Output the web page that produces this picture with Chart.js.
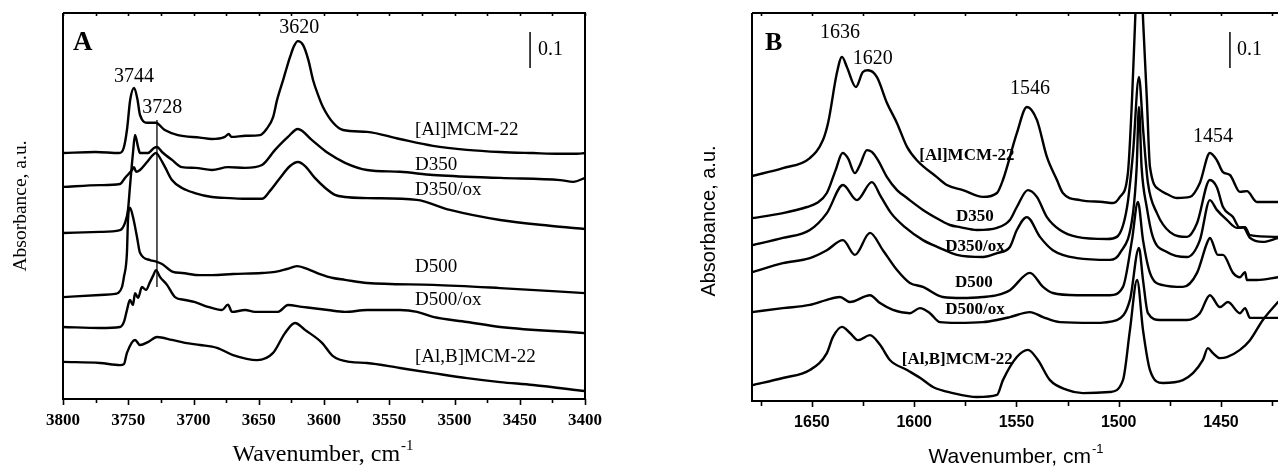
<!DOCTYPE html>
<html>
<head>
<meta charset="utf-8">
<script src="https://cdn.jsdelivr.net/npm/chart.js@4.4.1/dist/chart.umd.min.js"></script>
<style>
  html, body { margin: 0; padding: 0; background: #fff; width: 1278px; height: 466px; overflow: hidden; }
  canvas { position: absolute; top: 0; }
  #panelA { left: 0; }
  #panelB { left: 630px; }
</style>
</head>
<body>
<canvas id="panelA" width="630" height="466" style="width:630px;height:466px"></canvas>
<canvas id="panelB" width="648" height="466" style="width:648px;height:466px"></canvas>
<script>
// ---------- values ----------
const sampleNames = ['[Al]MCM-22', 'D350', 'D350/ox', 'D500', 'D500/ox', '[Al,B]MCM-22'];

const wavenumberTicksA = [3800, 3750, 3700, 3650, 3600, 3550, 3500, 3450, 3400];
const wavenumberTicksB = [1650, 1600, 1550, 1500, 1450];
const rangeA = [3400, 3800];
const rangeB = [1422.1, 1679.3];

const peaksA = [3744, 3728, 3620];
const peaksB = [1636, 1620, 1546, 1454];
const scaleBarSize = 0.1;
const markerSpanA = [0.311, 0.775];   // absorbance range of the 3728 cm-1 marker line

// OH stretching region, [wavenumber, absorbance (stacked)]
const ohAl = [[3800,0.683],[3775,0.686],[3757,0.683],[3753.5,0.697],[3751,0.747],[3748.5,0.831],[3745.5,0.864],[3743,0.833],[3741,0.789],[3735,0.767],[3729,0.767],[3722,0.747],[3712,0.733],[3695,0.726],[3686,0.722],[3676,0.728],[3673,0.736],[3671,0.728],[3660,0.731],[3649,0.733],[3644,0.750],[3639,0.783],[3636,0.830],[3631,0.890],[3628.4,0.922],[3626,0.950],[3623,0.980],[3620,0.994],[3616,0.983],[3612,0.942],[3608.4,0.886],[3604.5,0.844],[3600.8,0.811],[3593,0.767],[3585.4,0.747],[3567,0.742],[3542,0.722],[3516.5,0.703],[3490.5,0.692],[3465,0.686],[3440,0.683],[3419,0.681],[3406,0.681],[3400,0.683]];
const ohD350 = [[3800,0.461],[3771.6,0.464],[3756.3,0.469],[3752.5,0.489],[3750.2,0.525],[3748.7,0.589],[3746.4,0.683],[3744.8,0.733],[3742.5,0.700],[3741,0.683],[3735,0.683],[3730.3,0.697],[3728,0.700],[3724.1,0.686],[3716.5,0.664],[3708.8,0.644],[3698.8,0.642],[3685.8,0.636],[3673.6,0.644],[3660.5,0.642],[3647.5,0.650],[3637.5,0.692],[3627.6,0.728],[3620,0.750],[3609.2,0.719],[3596.9,0.683],[3583.9,0.656],[3567,0.636],[3541.8,0.631],[3516.5,0.622],[3465,0.614],[3419,0.608],[3409,0.603],[3400,0.614]];
const ohD350ox = [[3800,0.589],[3771.6,0.594],[3756.3,0.597],[3752.5,0.614],[3747.1,0.636],[3745.6,0.644],[3744,0.631],[3741,0.636],[3735.6,0.658],[3731,0.678],[3728.7,0.683],[3727.2,0.678],[3721.8,0.644],[3716.5,0.608],[3708.8,0.586],[3699,0.572],[3685.8,0.561],[3672,0.558],[3660.5,0.556],[3647.5,0.556],[3641.4,0.578],[3633.7,0.614],[3626,0.647],[3620,0.658],[3614.5,0.647],[3607,0.614],[3599,0.586],[3591.6,0.567],[3584,0.561],[3567,0.558],[3529,0.553],[3503.5,0.525],[3465,0.497],[3427,0.481],[3400,0.472]];
const ohD500 = [[3800,0.283],[3771.6,0.289],[3760,0.292],[3758,0.294],[3754.8,0.311],[3753.3,0.339],[3751,0.406],[3750.2,0.497],[3748.7,0.531],[3746.4,0.506],[3743.3,0.450],[3741,0.406],[3733.3,0.386],[3728,0.381],[3724.1,0.375],[3715.7,0.353],[3708.8,0.350],[3695,0.344],[3685.8,0.344],[3669.7,0.347],[3647.5,0.350],[3637.5,0.353],[3628.4,0.361],[3620.7,0.369],[3610.7,0.358],[3603.1,0.347],[3593.1,0.336],[3583.9,0.331],[3567,0.322],[3516.5,0.317],[3465,0.308],[3400,0.294]];
const ohD500ox = [[3800,0.200],[3771.6,0.197],[3756.3,0.200],[3753.3,0.214],[3751,0.247],[3748.7,0.275],[3746.4,0.261],[3744.8,0.294],[3742.5,0.281],[3739.5,0.311],[3736.4,0.303],[3733.3,0.325],[3731,0.342],[3728.7,0.358],[3725.7,0.339],[3720.3,0.317],[3714.2,0.283],[3706.5,0.275],[3698.8,0.269],[3688.9,0.256],[3678.2,0.247],[3673.6,0.262],[3670.5,0.242],[3660.5,0.247],[3652.9,0.242],[3635.2,0.242],[3627.6,0.261],[3616.9,0.256],[3596.9,0.247],[3583.9,0.242],[3567,0.247],[3541.8,0.247],[3528.7,0.242],[3516.5,0.228],[3490.4,0.214],[3465,0.200],[3400,0.183]];
const ohAlB = [[3800,0.103],[3771.6,0.100],[3756.3,0.094],[3753.3,0.097],[3751,0.128],[3744.8,0.164],[3741,0.150],[3734.9,0.158],[3728,0.172],[3716.5,0.164],[3706.5,0.156],[3695,0.150],[3682,0.142],[3669.7,0.122],[3651.3,0.108],[3639,0.128],[3629.9,0.183],[3622.2,0.211],[3614.6,0.192],[3601.5,0.156],[3593.1,0.119],[3580.1,0.103],[3567,0.100],[3541.8,0.086],[3516.5,0.072],[3490.4,0.058],[3465,0.047],[3439.8,0.039],[3400,0.022]];

// Pyridine ring vibration region, [wavenumber, absorbance (stacked)]
const pyAl = [[1679.3,0.625],[1664.2,0.647],[1651,0.675],[1644.6,0.725],[1642,0.775],[1637.8,0.911],[1635.3,0.956],[1632.9,0.928],[1628.5,0.872],[1625.1,0.914],[1622.6,0.919],[1618.2,0.900],[1613.3,0.828],[1608.4,0.772],[1603.5,0.706],[1598.7,0.669],[1588.9,0.622],[1584,0.600],[1576.2,0.586],[1566.4,0.567],[1559.5,0.578],[1556.6,0.614],[1549.8,0.744],[1544.9,0.817],[1540,0.781],[1535.1,0.678],[1530.2,0.614],[1527.3,0.578],[1518.9,0.558],[1507.7,0.553],[1502.7,0.550],[1499.4,0.567],[1495.5,0.633],[1493.5,0.836],[1492,1.050],[1490,1.320],[1488,1.050],[1486.2,0.836],[1484.7,0.650],[1479.8,0.586],[1476.4,0.575],[1471.5,0.564],[1465.2,0.567],[1460.3,0.606],[1455.4,0.689],[1452,0.669],[1449,0.636],[1445.6,0.628],[1440.7,0.581],[1437.3,0.583],[1432.4,0.553],[1422.1,0.553]];
const pyD350 = [[1679.3,0.508],[1664.2,0.522],[1652.4,0.539],[1647.6,0.550],[1642.7,0.578],[1638.5,0.640],[1635,0.689],[1632.4,0.675],[1629,0.633],[1626.5,0.656],[1623.1,0.697],[1620.7,0.692],[1617.7,0.669],[1613.3,0.622],[1608.4,0.586],[1603.5,0.564],[1595.7,0.531],[1587.4,0.503],[1582.5,0.489],[1577.6,0.483],[1569.3,0.475],[1559.5,0.481],[1553.2,0.503],[1549.8,0.539],[1544.4,0.586],[1540,0.567],[1535.1,0.511],[1528.7,0.475],[1520.4,0.456],[1505.7,0.450],[1500.9,0.456],[1495.9,0.539],[1493,0.689],[1490.1,0.900],[1488,0.750],[1485.7,0.606],[1481.3,0.522],[1474.9,0.469],[1466.6,0.456],[1461.7,0.494],[1455.4,0.614],[1452,0.594],[1449,0.539],[1444.1,0.511],[1440.7,0.481],[1438.2,0.483],[1435.8,0.461],[1422.1,0.456]];
const pyD350ox = [[1679.3,0.433],[1664.2,0.453],[1651,0.475],[1642.7,0.522],[1634.8,0.600],[1628,0.558],[1620.7,0.608],[1616.2,0.567],[1611.3,0.522],[1604.5,0.483],[1595.7,0.447],[1587.4,0.425],[1579.1,0.406],[1566.4,0.400],[1559.5,0.411],[1553.2,0.428],[1549.8,0.475],[1544.9,0.511],[1538.5,0.456],[1532.2,0.419],[1520.4,0.397],[1504.3,0.392],[1499.4,0.411],[1493,0.522],[1491.2,0.650],[1490.1,0.817],[1488.8,0.650],[1486.2,0.536],[1483.3,0.456],[1476.4,0.414],[1466.6,0.400],[1460.3,0.447],[1455.4,0.558],[1452,0.531],[1447.1,0.503],[1442.2,0.481],[1439.2,0.483],[1435.8,0.453],[1429.5,0.442],[1422.1,0.453]];
const pyD500 = [[1679.3,0.358],[1664.2,0.383],[1651,0.397],[1642.7,0.419],[1634.8,0.447],[1629,0.406],[1621.6,0.467],[1615.3,0.419],[1608.4,0.364],[1602.1,0.328],[1595.7,0.317],[1586,0.289],[1576.2,0.286],[1566.4,0.289],[1559.5,0.294],[1553.2,0.308],[1543.4,0.356],[1537,0.317],[1532.2,0.300],[1520.4,0.294],[1504.3,0.294],[1497.9,0.317],[1493.5,0.447],[1490.6,0.553],[1488.1,0.447],[1484.7,0.356],[1478.4,0.322],[1468.6,0.317],[1461.7,0.356],[1456.8,0.439],[1455.4,0.453],[1451.5,0.406],[1449,0.406],[1444.1,0.356],[1440.7,0.344],[1438.2,0.358],[1437.3,0.336],[1432.4,0.336],[1422.1,0.344]];
const pyD500ox = [[1679.3,0.247],[1664.2,0.258],[1651,0.267],[1642.7,0.281],[1636.3,0.289],[1631.4,0.275],[1621.6,0.294],[1616.7,0.272],[1610.4,0.253],[1602.1,0.244],[1597.2,0.258],[1592.3,0.244],[1587.4,0.219],[1579.1,0.217],[1566.4,0.219],[1559.5,0.225],[1553.2,0.233],[1543.4,0.247],[1537,0.233],[1528.7,0.219],[1512.6,0.217],[1500.9,0.225],[1494.5,0.281],[1490.1,0.425],[1488.1,0.336],[1485.7,0.244],[1479.8,0.225],[1466.6,0.225],[1460.3,0.244],[1455.4,0.294],[1450.5,0.261],[1446.6,0.275],[1440.7,0.244],[1438.2,0.258],[1435.8,0.231],[1422.1,0.231]];
const pyAlB = [[1679.3,0.044],[1664.2,0.064],[1651,0.086],[1642.7,0.133],[1639.7,0.178],[1635.3,0.206],[1631.4,0.189],[1627.5,0.169],[1621.6,0.183],[1616.7,0.156],[1611.9,0.114],[1603.5,0.086],[1597,0.064],[1590.8,0.039],[1581,0.022],[1569.3,0.011],[1559.5,0.017],[1556.6,0.058],[1549.8,0.122],[1544.4,0.142],[1539.5,0.114],[1533.6,0.058],[1525.3,0.031],[1517.5,0.022],[1504.3,0.025],[1497.9,0.058],[1494.5,0.197],[1491,0.336],[1488.1,0.197],[1484.7,0.086],[1478.4,0.050],[1468.6,0.058],[1458.8,0.114],[1456.4,0.147],[1453.9,0.133],[1450.5,0.119],[1447.1,0.122],[1440.7,0.142],[1435.8,0.169],[1429.5,0.225],[1422.1,0.275]];

// ---------- styling ----------
const SERIF = "'Liberation Serif', 'Times New Roman', serif";
const SANS = "'Liberation Sans', Arial, sans-serif";

const toPoints = arr => arr.map(([x, y]) => ({ x, y }));

function spectrum(arr) {
  return {
    data: toPoints(arr),
    borderColor: '#000',
    borderWidth: 2.4,
    pointRadius: 0,
    showLine: true,
    fill: false,
    cubicInterpolationMode: 'monotone',
    borderJoinStyle: 'round',
    borderCapStyle: 'round'
  };
}

function drawText(ctx, t) {
  ctx.save();
  ctx.fillStyle = '#000';
  ctx.font = t.font;
  ctx.textAlign = t.align || 'center';
  ctx.textBaseline = 'middle';
  ctx.fillText(t.text, t.px, t.py);
  ctx.restore();
}

function drawAxisTitle(ctx, t) {
  ctx.save();
  ctx.translate(t.cx, t.cy);
  if (t.rotate) ctx.rotate(-Math.PI / 2);
  ctx.fillStyle = '#000';
  ctx.textBaseline = 'middle';
  ctx.textAlign = 'left';
  ctx.font = t.font;
  const w1 = ctx.measureText(t.text).width;
  let w2 = 0;
  if (t.sup) { ctx.font = t.supFont; w2 = ctx.measureText(t.sup).width + 1; }
  const x0 = -(w1 + w2) / 2;
  ctx.font = t.font;
  ctx.fillText(t.text, x0, 0);
  if (t.sup) { ctx.font = t.supFont; ctx.fillText(t.sup, x0 + w1 + 1, -t.supRise); }
  ctx.restore();
}

// frame, tick marks, scale bar, annotations and axis titles
const panelDecor = {
  id: 'panelDecor',
  afterDraw(chart, args, o) {
    const { ctx, chartArea: a, scales: { x, y } } = chart;
    ctx.save();
    ctx.strokeStyle = '#000';
    ctx.lineWidth = 2;
    ctx.lineCap = 'butt';
    // frame
    ctx.beginPath();
    ctx.moveTo(a.left, a.top); ctx.lineTo(a.left, a.bottom); ctx.lineTo(a.right, a.bottom);
    ctx.moveTo(a.left, a.top); ctx.lineTo(a.right, a.top);
    if (o.rightBorder) { ctx.lineTo(a.right, a.bottom); }
    ctx.stroke();
    // tick marks on bottom (outside) and top (inside)
    ctx.lineWidth = 1.6;
    const start = Math.ceil(x.min / o.minorStep) * o.minorStep;
    for (let v = start; v <= x.max + 1e-6; v += o.minorStep) {
      const px = Math.round(x.getPixelForValue(v)) + 0.5;
      const isMajor = Math.abs(v / o.majorStep - Math.round(v / o.majorStep)) < 1e-6;
      ctx.beginPath();
      ctx.moveTo(px, a.bottom);
      ctx.lineTo(px, a.bottom + (isMajor ? o.majorLen : o.minorLen));
      ctx.moveTo(px, a.top);
      ctx.lineTo(px, a.top + o.topLen);
      ctx.stroke();
    }
    // 0.1 absorbance scale bar
    const sb = o.scaleBar;
    const sx = x.getPixelForValue(sb.x);
    ctx.lineWidth = 1.5;
    ctx.beginPath();
    ctx.moveTo(sx, y.getPixelForValue(sb.top));
    ctx.lineTo(sx, y.getPixelForValue(sb.top - scaleBarSize));
    ctx.stroke();
    ctx.restore();
    drawText(ctx, { text: String(scaleBarSize), font: sb.font, align: 'left',
      px: sx + sb.gap, py: y.getPixelForValue(sb.top - scaleBarSize / 2) });
    // annotations in data space
    for (const t of o.texts) {
      drawText(ctx, { text: t.text, font: t.font, align: t.align,
        px: x.getPixelForValue(t.x), py: y.getPixelForValue(t.y) });
    }
    for (const t of o.titles) drawAxisTitle(ctx, t);
  }
};

function buildChart(canvasId, cfg) {
  return new Chart(document.getElementById(canvasId), {
    type: 'scatter',
    data: { datasets: cfg.datasets },
    options: {
      responsive: false,
      animation: false,
      devicePixelRatio: 1,
      layout: { padding: cfg.padding },
      plugins: { legend: { display: false }, tooltip: { enabled: false }, panelDecor: cfg.decor },
      scales: {
        x: {
          type: 'linear',
          reverse: true,
          min: cfg.range[0],
          max: cfg.range[1],
          grid: { display: false, drawTicks: false, tickLength: 0 },
          border: { display: false },
          afterBuildTicks: s => { s.ticks = cfg.ticks.map(v => ({ value: v })); },
          afterFit: s => { s.height = cfg.axisHeight; },
          ticks: {
            autoSkip: false, maxRotation: 0, color: '#000',
            padding: cfg.tickPadding, font: cfg.tickFont,
            callback: v => String(v)
          }
        },
        y: { type: 'linear', display: false, min: 0, max: cfg.yMax }
      }
    },
    plugins: [panelDecor]
  });
}

// ---------- panel A: OH region ----------
const markerLine = {
  data: markerSpanA.map(v => ({ x: peaksA[1], y: v })),
  borderColor: '#000', borderWidth: 1.3, pointRadius: 0, showLine: true, tension: 0
};
const serifPeak = `20px ${SERIF}`;
const labelA = `19px ${SERIF}`;
const labelXA = 3530.3;

buildChart('panelA', {
  datasets: [ohAl, ohD350, ohD350ox, ohD500, ohD500ox, ohAlB].map(spectrum).concat([markerLine]),
  range: rangeA,
  ticks: wavenumberTicksA,
  yMax: 1.072,
  padding: { left: 63, right: 45, top: 13, bottom: 0 },
  axisHeight: 67,
  tickPadding: 11,
  tickFont: { family: SERIF, size: 17, weight: 'bold' },
  decor: {
    rightBorder: true, minorStep: 25, majorStep: 50, majorLen: 6, minorLen: 4, topLen: 3,
    scaleBar: { x: 3442.1, top: 1.019, gap: 8, font: `20px ${SERIF}` },
    texts: [
      { text: 'A', x: 3792.3, y: 0.989, font: `bold 27px ${SERIF}`, align: 'left' },
      { text: String(peaksA[0]), x: 3745.6, y: 0.894, font: serifPeak },
      { text: String(peaksA[1]), x: 3724.0, y: 0.808, font: serifPeak },
      { text: String(peaksA[2]), x: 3619.0, y: 1.031, font: serifPeak },
      { text: sampleNames[0], x: labelXA, y: 0.747, font: labelA, align: 'left' },
      { text: sampleNames[1], x: labelXA, y: 0.650, font: labelA, align: 'left' },
      { text: sampleNames[2], x: labelXA, y: 0.581, font: labelA, align: 'left' },
      { text: sampleNames[3], x: labelXA, y: 0.367, font: labelA, align: 'left' },
      { text: sampleNames[4], x: labelXA, y: 0.275, font: labelA, align: 'left' },
      { text: sampleNames[5], x: labelXA, y: 0.117, font: labelA, align: 'left' }
    ],
    titles: [
      { text: 'Wavenumber, cm', sup: '-1', cx: 323, cy: 455, font: `24px ${SERIF}`, supFont: `15px ${SERIF}`, supRise: 9 },
      { text: 'Absorbance, a.u.', cx: 21, cy: 206, rotate: true, font: `19.5px ${SERIF}` }
    ]
  }
});

// ---------- panel B: pyridine region ----------
const labelB = `bold 17px ${SERIF}`;
buildChart('panelB', {
  datasets: [pyAl, pyD350, pyD350ox, pyD500, pyD500ox, pyAlB].map(spectrum),
  range: rangeB,
  ticks: wavenumberTicksB,
  yMax: 1.078,
  padding: { left: 122, right: 0, top: 13, bottom: 0 },
  axisHeight: 65,
  tickPadding: 12,
  tickFont: { family: SANS, size: 16, weight: 'bold' },
  decor: {
    rightBorder: false, minorStep: 25, majorStep: 50, majorLen: 6, minorLen: 5, topLen: 3,
    scaleBar: { x: 1445.6, top: 1.025, gap: 7, font: `20px ${SERIF}` },
    texts: [
      { text: 'B', x: 1673.0, y: 0.994, font: `bold 26px ${SERIF}`, align: 'left' },
      { text: String(peaksB[0]), x: 1636.3, y: 1.022, font: serifPeak },
      { text: String(peaksB[1]), x: 1620.2, y: 0.950, font: serifPeak },
      { text: String(peaksB[2]), x: 1543.4, y: 0.867, font: serifPeak },
      { text: String(peaksB[3]), x: 1453.9, y: 0.733, font: serifPeak },
      { text: sampleNames[0], x: 1574.2, y: 0.683, font: labelB },
      { text: sampleNames[1], x: 1570.3, y: 0.511, font: labelB },
      { text: sampleNames[2], x: 1570.3, y: 0.428, font: labelB },
      { text: sampleNames[3], x: 1570.8, y: 0.328, font: labelB },
      { text: sampleNames[4], x: 1570.3, y: 0.253, font: labelB },
      { text: sampleNames[5], x: 1578.9, y: 0.114, font: labelB }
    ],
    titles: [
      { text: 'Wavenumber, cm', sup: '-1', cx: 386, cy: 457, font: `21px ${SANS}`, supFont: `13px ${SANS}`, supRise: 8 },
      { text: 'Absorbance, a.u.', cx: 79, cy: 221, rotate: true, font: `20px ${SANS}` }
    ]
  }
});
</script>
</body>
</html>
